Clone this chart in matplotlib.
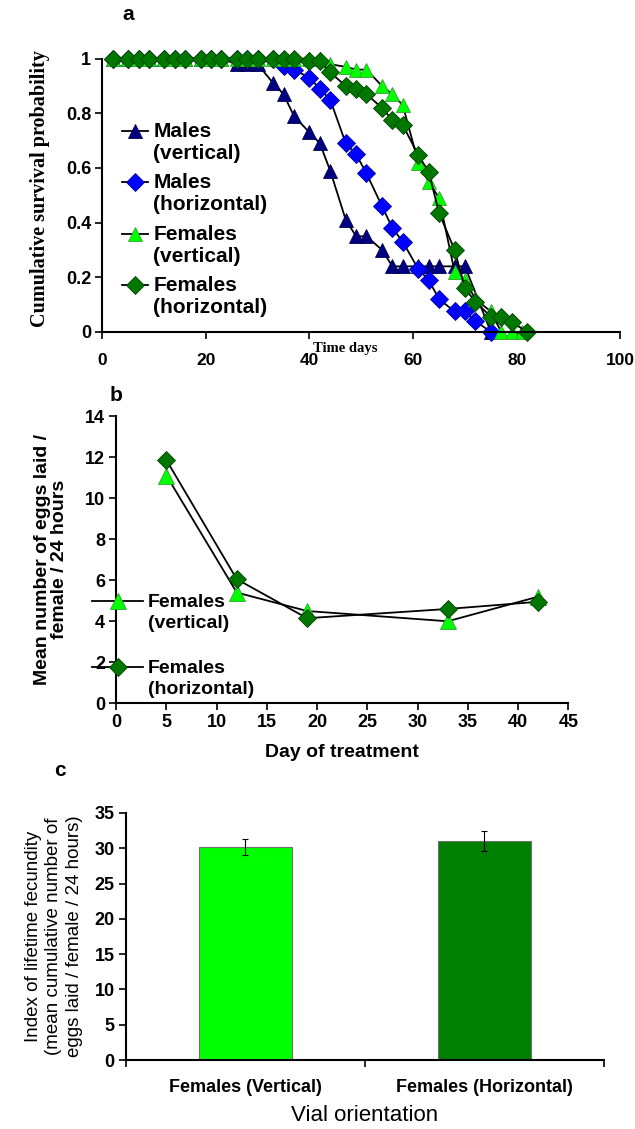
import matplotlib
matplotlib.use('Agg')
import matplotlib.pyplot as plt
from matplotlib.lines import Line2D
from matplotlib.legend_handler import HandlerLine2D
from matplotlib.ticker import FuncFormatter, MultipleLocator, FixedLocator

plt.rcParams['font.family'] = ['Liberation Sans', 'DejaVu Sans']

# ---- panel a : cumulative survival ----
days_mv = [2, 5, 7, 9, 12, 14, 16, 19, 21, 23, 26, 28, 30, 33, 35, 37, 40, 42, 44,
           47, 49, 51, 54, 56, 58, 61, 63, 65, 68, 70, 75]
surv_mv = [1, 1, 1, 1, 1, 1, 1, 1, 1, 1, 0.98, 0.98, 0.98, 0.91, 0.87, 0.79, 0.73, 0.69, 0.59,
           0.41, 0.35, 0.35, 0.30, 0.24, 0.24, 0.24, 0.24, 0.24, 0.24, 0.24, 0.0]

days_mh = [2, 5, 7, 9, 12, 14, 16, 19, 21, 23, 26, 28, 30, 33, 35, 37, 40, 42, 44,
           47, 49, 51, 54, 56, 58, 61, 63, 65, 68, 70, 72, 75]
surv_mh = [1, 1, 1, 1, 1, 1, 1, 1, 1, 1, 1, 1, 1, 1, 0.975, 0.96, 0.93, 0.89, 0.85,
           0.69, 0.65, 0.58, 0.46, 0.38, 0.33, 0.23, 0.19, 0.12, 0.075, 0.075, 0.04, 0.0]

days_fv = [2, 5, 7, 9, 12, 14, 16, 19, 21, 23, 26, 28, 30, 33, 35, 37, 40, 42, 44,
           47, 49, 51, 54, 56, 58, 61, 63, 65, 68, 70, 72, 75, 77, 79, 81]
surv_fv = [1, 1, 1, 1, 1, 1, 1, 1, 1, 1, 1, 1, 1, 1, 1, 1, 1, 1, 0.98,
           0.97, 0.96, 0.96, 0.90, 0.87, 0.83, 0.62, 0.55, 0.49, 0.22, 0.19, 0.12, 0.075, 0, 0, 0]

days_fh = [2, 5, 7, 9, 12, 14, 16, 19, 21, 23, 26, 28, 30, 33, 35, 37, 40, 42, 44,
           47, 49, 51, 54, 56, 58, 61, 63, 65, 68, 70, 72, 75, 77, 79, 82]
surv_fh = [1, 1, 1, 1, 1, 1, 1, 1, 1, 1, 1, 1, 1, 1, 1, 1, 0.99, 0.99, 0.95,
           0.90, 0.89, 0.87, 0.82, 0.775, 0.757, 0.647, 0.586, 0.436, 0.30, 0.16, 0.11, 0.056, 0.056, 0.037, 0]

# ---- panel b : eggs per female ----
treat_days = [5, 12, 19, 33, 42]
eggs_vert = [11.1, 5.4, 4.5, 4.0, 5.2]
eggs_horiz = [11.85, 6.05, 4.15, 4.6, 4.95]

# ---- panel c : lifetime fecundity ----
groups = ['Females (Vertical)', 'Females (Horizontal)']
fecundity = [30.2, 31.0]
fecundity_err = [1.1, 1.4]

NAVY = '#000080'
BLUE = '#0000ff'
LIME = '#00ff00'
DKGREEN = '#007800'
TICKSIZE = 13

fig = plt.figure(figsize=(6.35, 11.29), dpi=100)


class FirstLineHandler(HandlerLine2D):
    # put the legend symbol on the first line of a two-line label (Excel style)
    def __init__(self, shift=1.1, **kw):
        super().__init__(**kw)
        self.shift = shift

    def create_artists(self, legend, orig_handle, xdescent, ydescent, width, height,
                       fontsize, trans):
        return super().create_artists(legend, orig_handle, xdescent,
                                      ydescent - self.shift * fontsize, width, height,
                                      fontsize, trans)


def excel_axes(ax):
    ax.spines['top'].set_visible(False)
    ax.spines['right'].set_visible(False)
    ax.spines['left'].set_linewidth(1.5)
    ax.spines['bottom'].set_linewidth(1.5)
    ax.tick_params(direction='out', length=5, width=1.2, labelsize=TICKSIZE, pad=3)


def gfmt(v, pos):
    return '{:g}'.format(round(v, 2))


# Panel a
# -------
ax1 = fig.add_axes([0.161, 0.706, 0.816, 0.242])
series_a = [
    (days_mv, surv_mv, '^', NAVY, '#000050', 'Males\n(vertical)', 10),
    (days_mh, surv_mh, 'D', BLUE, '#0000a0', 'Males\n(horizontal)', 9),
    (days_fv, surv_fv, '^', LIME, '#30a030', 'Females\n(vertical)', 10),
    (days_fh, surv_fh, 'D', DKGREEN, '#004000', 'Females\n(horizontal)', 9),
]
for d, s, m, c, ec, lab, ms in series_a:
    ax1.plot(d, s, color='black', lw=1.3, marker=m, markersize=ms, markerfacecolor=c,
             markeredgecolor=ec, markeredgewidth=0.6, label=lab, clip_on=False)
ax1.set_xlim(0, 100)
ax1.set_ylim(0, 1)
ax1.xaxis.set_major_locator(MultipleLocator(20))
ax1.yaxis.set_major_locator(MultipleLocator(0.2))
ax1.yaxis.set_major_formatter(FuncFormatter(gfmt))
excel_axes(ax1)
ax1.tick_params(axis='x', pad=10, labelsize=12.5)
for t in ax1.get_xticklabels() + ax1.get_yticklabels():
    t.set_fontweight('bold')
ax1.set_ylabel('Cumulative survival probability', family=['Liberation Serif', 'DejaVu Serif'],
               fontweight='bold', fontsize=14.5)
ax1.yaxis.set_label_coords(-0.10, 0.525)
ax1.set_xlabel('Time days', family=['Liberation Serif', 'DejaVu Serif'],
               fontweight='bold', fontsize=10.5, va='center')
ax1.xaxis.set_label_coords(0.469, -0.062)
leg1 = ax1.legend(loc='upper left', bbox_to_anchor=(0.0225, 0.80), frameon=False,
                  prop={'size': 15, 'weight': 'bold'}, handlelength=1.25, handletextpad=0.25,
                  labelspacing=0.5, borderaxespad=0.0,
                  handler_map={Line2D: FirstLineHandler(shift=1.1)})
for t in leg1.get_texts():
    t.set_linespacing(1.2)
fig.text(128 / 635, 1 - 15 / 1129, 'a', fontsize=15, fontweight='bold', ha='center', va='center')

# Panel b
# -------
ax2 = fig.add_axes([0.183, 0.377, 0.712, 0.2545])
ax2.plot(treat_days, eggs_vert, color='black', lw=1.3, marker='^', markersize=11,
         markerfacecolor=LIME, markeredgecolor='#30a030', markeredgewidth=0.6,
         label='Females\n(vertical)', clip_on=False)
ax2.plot(treat_days, eggs_horiz, color='black', lw=1.3, marker='D', markersize=9,
         markerfacecolor=DKGREEN, markeredgecolor='#004000', markeredgewidth=0.6,
         label='Females\n(horizontal)', clip_on=False)
ax2.set_xlim(0, 45)
ax2.set_ylim(0, 14)
ax2.xaxis.set_major_locator(MultipleLocator(5))
ax2.yaxis.set_major_locator(MultipleLocator(2))
excel_axes(ax2)
for t in ax2.get_xticklabels() + ax2.get_yticklabels():
    t.set_fontweight('bold')
ax2.set_ylabel('Mean number of eggs laid /\nfemale / 24 hours', fontweight='bold', fontsize=14,
               labelpad=12, linespacing=1.0)
ax2.set_xlabel('Day of treatment', fontweight='bold', fontsize=14, labelpad=9)
leg2 = ax2.legend(loc='upper left', bbox_to_anchor=(-0.07, 0.408), frameon=False,
                  prop={'size': 14, 'weight': 'bold'}, handlelength=2.6, handletextpad=0.25,
                  labelspacing=1.45, borderaxespad=0.0,
                  handler_map={Line2D: FirstLineHandler(shift=1.2)})
for t in leg2.get_texts():
    t.set_linespacing(1.3)
fig.text(116 / 635, 1 - 395 / 1129, 'b', fontsize=15, fontweight='bold', ha='center', va='center')

# Panel c
# -------
ax3 = fig.add_axes([0.198, 0.0611, 0.753, 0.2188])
xpos = list(range(len(groups)))
ax3.bar(xpos, fecundity, width=0.39, color=[LIME, '#008000'], edgecolor='#707070', linewidth=0.8,
        yerr=fecundity_err, error_kw=dict(ecolor='black', elinewidth=0.8, capsize=2.5, capthick=0.8))
ax3.set_xlim(-0.5, 1.5)
ax3.set_ylim(0, 35)
ax3.yaxis.set_major_locator(MultipleLocator(5))
ax3.set_xticks(xpos)
ax3.set_xticklabels(groups, fontweight='bold', fontsize=12.5)
ax3.xaxis.set_minor_locator(FixedLocator([-0.5, 0.5, 1.5]))
excel_axes(ax3)
ax3.tick_params(axis='x', which='major', length=0, pad=14)
ax3.tick_params(axis='x', which='minor', direction='out', length=5, width=1.2)
for t in ax3.get_yticklabels():
    t.set_fontweight('bold')
ax3.set_ylabel('Index of lifetime fecundity\n(mean cumulative number of\neggs laid / female / 24 hours)',
               fontsize=13.5, labelpad=8, linespacing=1.3)
ax3.set_xlabel('Vial orientation', fontsize=16, labelpad=6)
fig.text(60 / 635, 1 - 770 / 1129, 'c', fontsize=15, fontweight='bold', ha='center', va='center')

fig.savefig('out.png', dpi=100)
